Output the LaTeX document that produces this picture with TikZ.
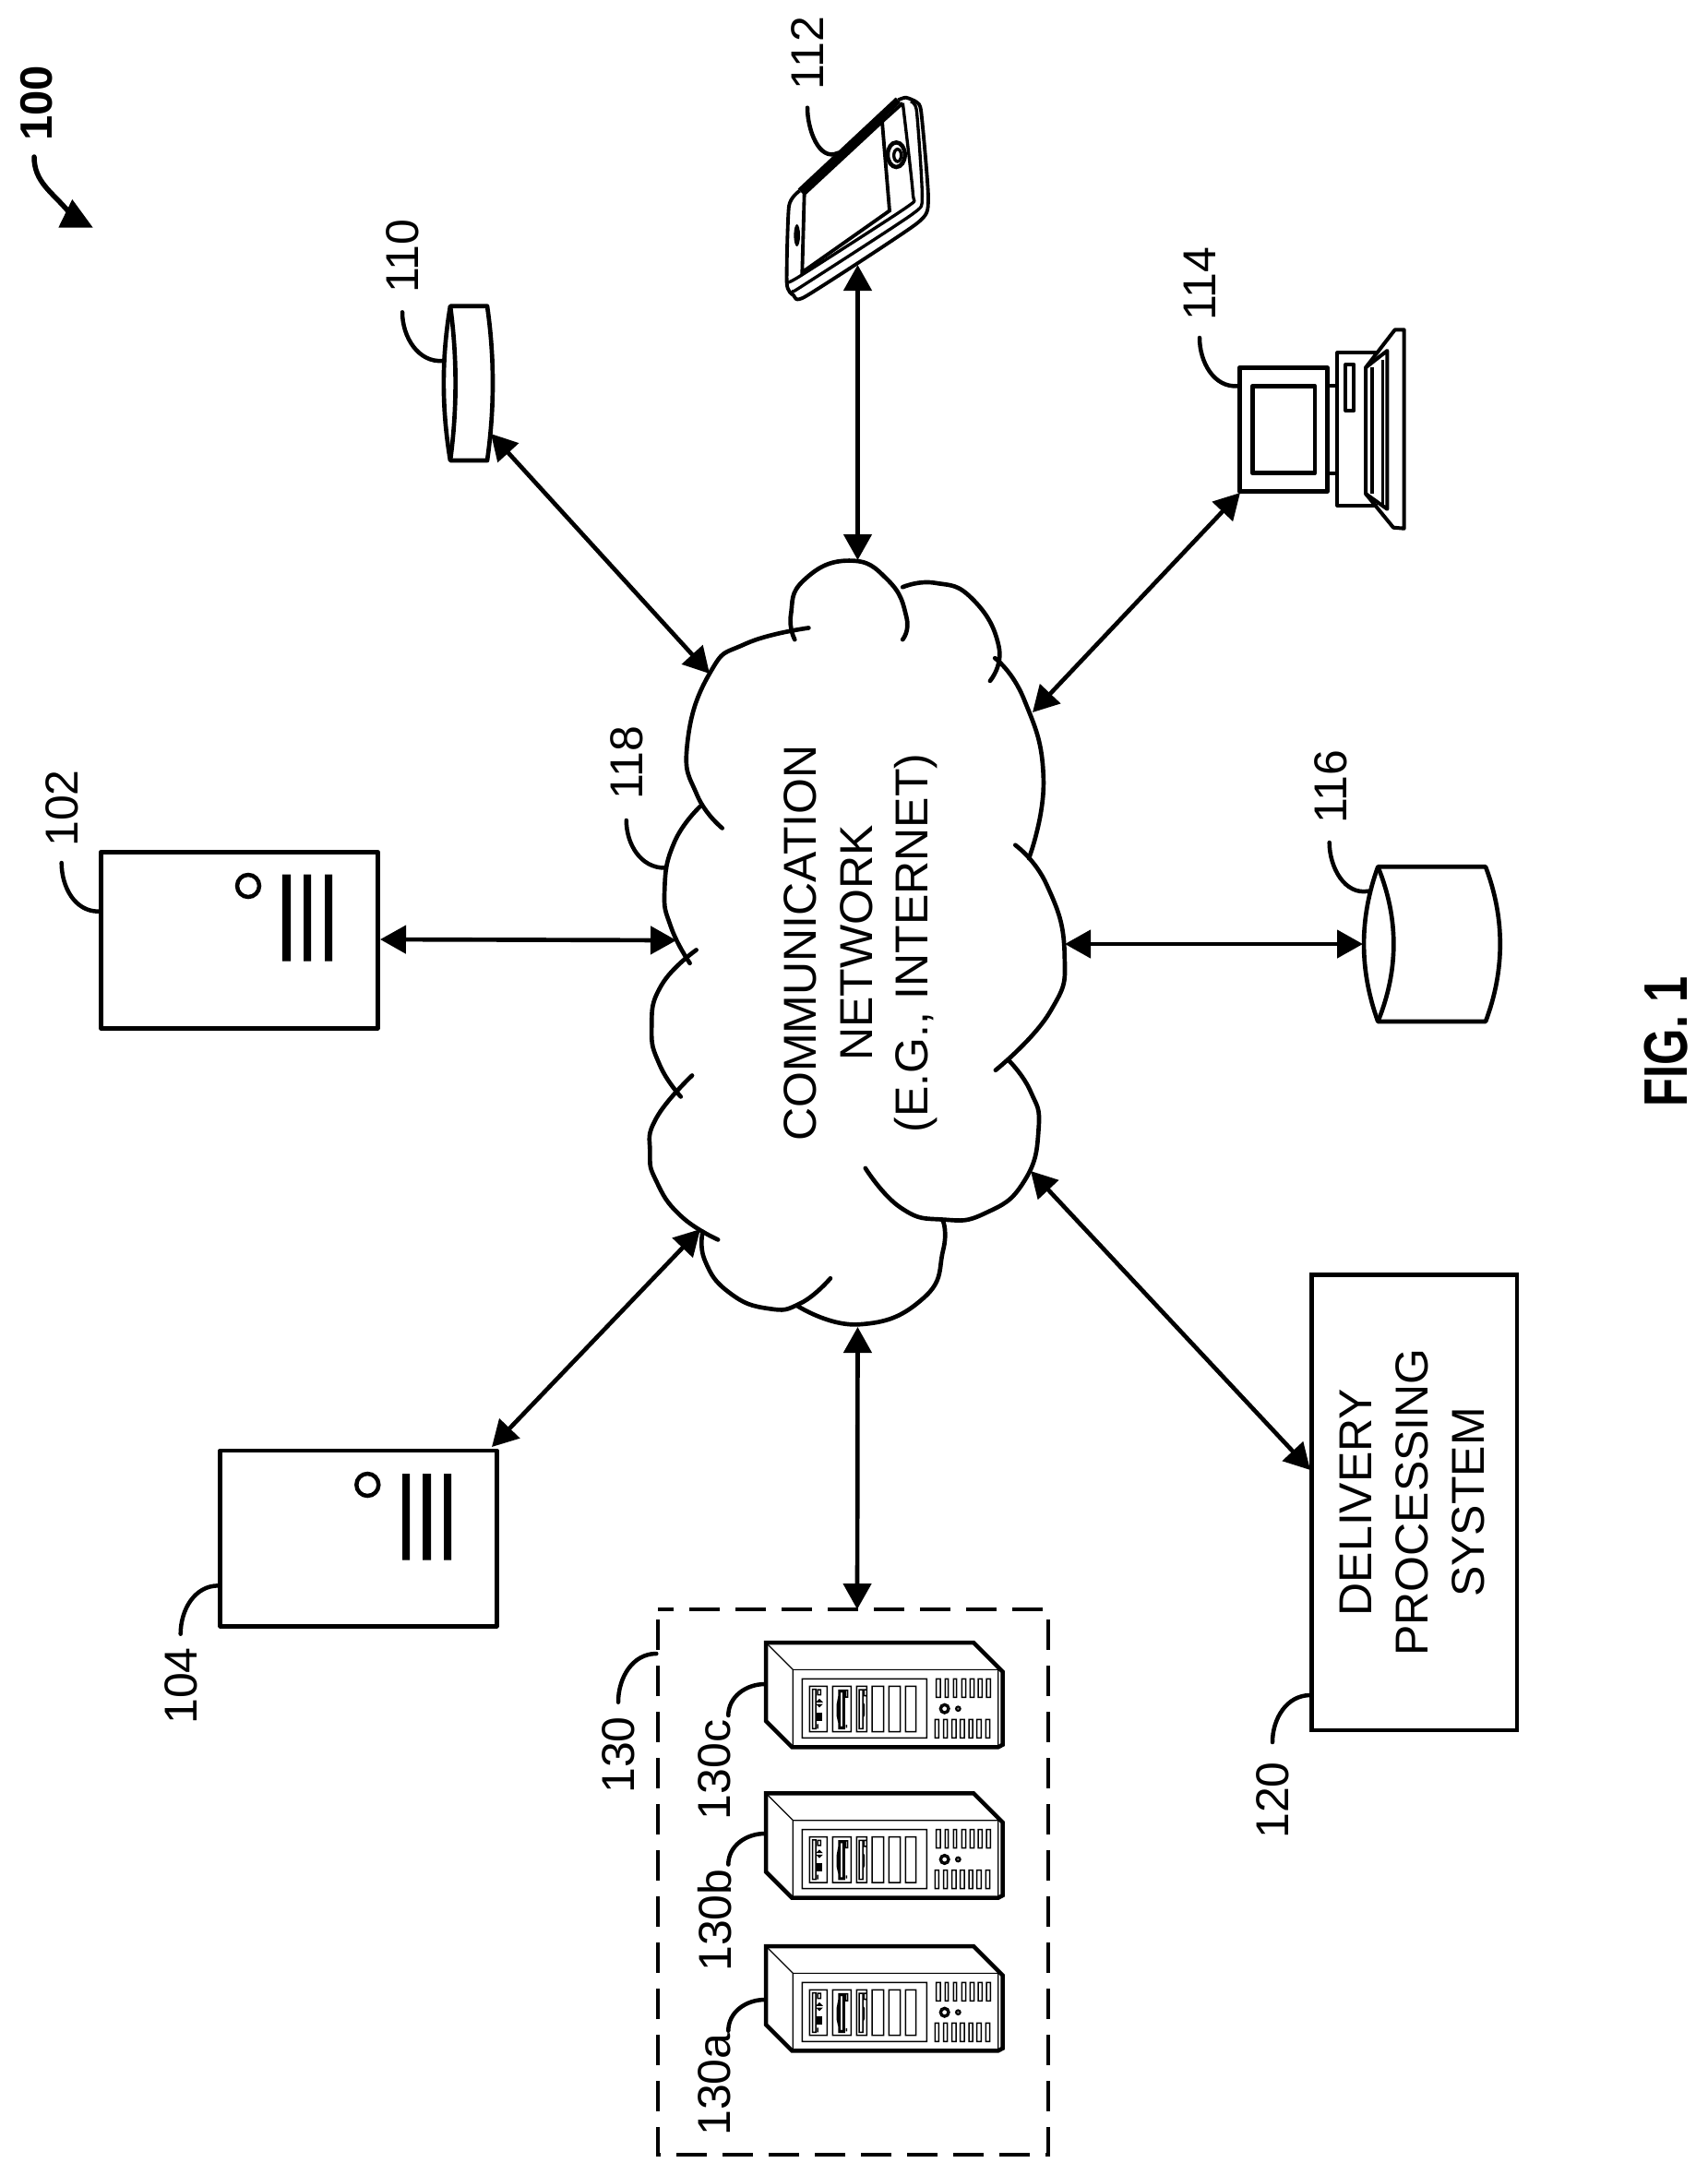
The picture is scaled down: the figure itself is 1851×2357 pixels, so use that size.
\documentclass[tikz,border=0pt]{standalone}
\usepackage{fontspec}
\setmainfont{Liberation Sans}
\usetikzlibrary{arrows.meta}
\tikzset{
  ln/.style={line width=1.4pt,line join=round},
  leader/.style={line width=1.35pt,line cap=round},
  thin1/.style={line width=0.36pt},
  thick1/.style={line width=1.35pt,line join=miter},
  biarrow/.style={line width=1.4pt,{Triangle[length=8.4pt,width=9pt]}-{Triangle[length=8.4pt,width=9pt]}},
  lab/.style={rotate=90,anchor=base,inner sep=0pt,font=\fontsize{15}{18.2}\selectfont},
  block/.style={rotate=90,anchor=center,inner sep=0pt,align=center,font=\fontsize{15}{18.2}\selectfont},
  cl/.style={line width=1.4pt,line cap=round},
  srv/.pic={
    \draw[thick1] (30,30)--(705,30)--(800,125)--(800,362)--(785,370)--(115,370)--(30,285)--cycle;
    \draw[thin1] (785,125)--(785,370) (118,118) rectangle (785,370) (32,32)--(118,118);
    \draw[thin1,line width=0.45pt] (148,148) rectangle (553,340)
      (172,172) rectangle (229,320) (182,182) rectangle (192,310) (198,183) rectangle (208,200)
      (198,222)--(204,216)--(210,222)--cycle (198,232)--(204,238)--(210,232)--cycle (198,295)--(198,310)
      (247,172) rectangle (307,320) (267,185) rectangle (285,310) (271,190) rectangle (281,305) (289,185) rectangle (296,207) (292,297)--(292,307)
      (267,205)--(262,232)--(262,268)--(267,290)
      (325,172) rectangle (358,320) (333,183) rectangle (345,310) (349,183) rectangle (358,203) (345,225)--(349,232)--(349,265)--(345,275)
      (375,172) rectangle (413,320) (430,172) rectangle (467,320) (484,172) rectangle (518,320);
    \fill (195,258) rectangle (212,285);
    \draw[thin1,line width=0.45pt]
      (584,148) rectangle (597,208) (613,148) rectangle (623,208) (640,148) rectangle (650,208)
      (667,148) rectangle (680,208) (694,148) rectangle (707,208) (720,148) rectangle (733,208) (747,148) rectangle (760,208)
      (580,280) rectangle (592,340) (608,280) rectangle (620,340) (635,280) rectangle (648,340)
      (662,280) rectangle (675,340) (690,280) rectangle (702,340) (716,280) rectangle (730,340) (745,280) rectangle (758,340)
      (611,245) circle (16) (611,245) circle (10);
    \draw[line width=0.6pt,fill=gray] (655,245) circle (7);
  },
}
\begin{document}
\begin{tikzpicture}[x=0.3pt,y=-0.3pt]
\useasboundingbox (0,0) rectangle (1851,2357);
\fill[white] (0,0) rectangle (1851,2357);

% ---- named end points
\coordinate (a102) at (412,1018);   \coordinate (c102) at (733,1019);
\coordinate (a104) at (533,1568);   \coordinate (c104) at (759,1332);
\coordinate (a110) at (532,470);    \coordinate (c110) at (769,730);
\coordinate (a112) at (929.5,287);  \coordinate (c112) at (929.5,607);
\coordinate (a114) at (1344,534);   \coordinate (c114) at (1119,772);
\coordinate (a116) at (1477,1023);  \coordinate (c116) at (1154,1023);
\coordinate (a120) at (1420,1593);  \coordinate (c120) at (1117,1269);
\coordinate (a130) at (929,1744);   \coordinate (c130) at (929.5,1438);

% ---- figure reference 100
\node[rotate=90,anchor=base,inner sep=0pt,font=\fontsize{14.7}{18}\selectfont\bfseries] (l100) at (56,112) {100};
\coordinate (r100a) at (37,170);
\coordinate (r100b) at (74,229);
\draw[line width=1.65pt,line cap=round] (r100a) to[out=-90,in=130] (r100b);
\fill (78.3,216)--(63.3,246.7)--(100.7,246.7)--cycle;

% ---- cloud
\begin{scope}[shift={(650,580)},x=0.1053pt,y=-0.1722pt]
\draw[cl] plot[smooth,tension=0.85] coordinates {(602,197)(590,150)(630,85)(770,48)(890,85)(947,155)(935,197)};
\draw[cl] plot[smooth,tension=0.85] coordinates {(935,98)(1035,90)(1150,120)(1232,210)(1205,275)};
\draw[cl] plot[smooth,tension=0.85] coordinates {(1220,232)(1310,310)(1370,460)(1325,610)};
\draw[cl] plot[smooth,tension=0.85] coordinates {(1283,585)(1380,660)(1435,790)(1390,900)(1222,1010)};
\draw[cl] plot[smooth,tension=0.85] coordinates {(1265,993)(1330,1050)(1355,1120)(1310,1220)(1190,1280)(1060,1292)(930,1270)(820,1195)};
\draw[cl] plot[smooth,tension=0.85] coordinates {(1060,1295)(1060,1350)(1000,1440)(800,1490)(610,1455)};
\draw[cl] plot[smooth,tension=0.85] coordinates {(712,1403)(620,1450)(520,1460)(400,1430)(325,1370)(318,1315)};
\draw[cl] plot[smooth,tension=0.85] coordinates {(365,1330)(250,1285)(175,1220)(155,1165)(175,1100)(285,1020)};
\draw[cl] plot[smooth,tension=0.85] coordinates {(250,1060)(185,1000)(160,930)(190,850)(298,783)};
\draw[cl] plot[smooth,tension=0.85] coordinates {(278,808)(220,740)(200,670)(230,580)(310,512)};
\draw[cl] plot[smooth,tension=0.85] coordinates {(378,553)(300,490)(270,395)(340,260)(450,205)(645,175)};
\end{scope}
\node[block] (net) at (933,1022) {COMMUNICATION\\NETWORK\\(E.G., INTERNET)};

% ---- 102
\draw[ln] (109.3,923.3) rectangle (409.3,1114.3);
\draw[line width=1.35pt] (269,960) circle (12);
\fill (305.8,947.7) rectangle (315,1041.7) (329,947.7) rectangle (337,1041.7) (352,947.7) rectangle (360,1041.7);
\node[lab] (l102) at (85,876) {102};
\coordinate (p102) at (106.7,987.7); \coordinate (q102) at (66.7,935);
\draw[leader] (p102) to[out=180,in=-90] (q102);

% ---- 104
\draw[ln] (238.7,1572) rectangle (538.3,1762.3);
\draw[line width=1.35pt] (398.3,1609) circle (12);
\fill (436,1597) rectangle (444,1690.7) (458,1597) rectangle (467,1690.7) (481,1597) rectangle (489,1690.7);
\node[lab] (l104) at (213,1827) {104};
\coordinate (p104) at (236.7,1718.3); \coordinate (q104) at (195.7,1770.7);
\draw[leader] (p104) to[out=180,in=90] (q104);

% ---- 110
\draw[ln] (488,331.7)--(528,331.7) .. controls (536,387) and (536,443) .. (528,499)--(488,499)
  .. controls (478.5,443) and (478.5,387) .. cycle;
\draw[ln] (488,331.7) .. controls (495.5,387) and (495.5,443) .. (488,499);
\node[lab] (l110) at (453.3,278) {110};
\coordinate (p110) at (480,391); \coordinate (q110) at (436,338.3);
\draw[leader] (p110) to[out=185,in=-90] (q110);

% ---- 112 phone
\begin{scope}[shift={(830,0)},x=0.1pt,y=-0.1pt]
\draw[line width=1.15pt,line join=round] plot[smooth,tension=0.35] coordinates {(430,325)(455,317)(490,332)(505,365)(528,650)(490,727)(130,963)(90,960)(68,920)(75,670)(110,620)};
\draw[line width=2.3pt] (112,622)--(430,325);
\draw[line width=1.0pt,line join=round] plot[smooth,tension=0.35] coordinates {(470,330)(490,360)(508,640)(475,697)(110,935)(90,945)};
\draw[line width=1.0pt,line join=round] plot[smooth,tension=0.35] coordinates {(445,335)(478,630)(460,672)(115,895)(72,918)};
\draw[line width=1.15pt,line join=miter] (125,630)--(378,395)--(402,685)--(118,885)--cycle;
\draw[line width=1.15pt] (378,395)--(445,335);
\draw[line width=1.35pt,fill=white] (424,503) ellipse (28 and 40);
\draw[line width=1.0pt] (428,505) ellipse (12 and 20);
\fill (101,765) ellipse (10 and 36);
\end{scope}
\node[lab] (l112) at (892,58) {112};
\coordinate (p112) at (908.3,165.7); \coordinate (q112) at (875,116.7);
\draw[leader] (p112) to[out=205,in=-90] (q112);

% ---- 114 computer
\begin{scope}[shift={(1270,250)},x=0.1pt,y=-0.1pt]
\draw[ln] (220,445) rectangle (505,848);
\draw[ln] (262,505) rectangle (465,788);
\draw[ln,line width=1.2pt] (505,505)--(538,505) (505,790)--(538,790);
\draw[ln,line width=1.2pt] (670,397)--(538,397)--(538,893)--(670,893);
\draw[ln,line width=1.2pt] (565,435) rectangle (592,585);
\draw[ln,line width=1.2pt] (630,445)--(725,322)--(755,322)--(755,968)--(720,965)--(630,855)--cycle;
\draw[ln,line width=1.2pt] (630,445)--(700,390)--(700,905)--(630,855);
\draw[ln,line width=1.1pt] (650,445)--(650,855) (685,420)--(685,895);
\end{scope}
\node[lab] (l114) at (1317,307.6) {114};
\coordinate (p114) at (1341.7,418.3); \coordinate (q114) at (1300,366);
\draw[leader] (p114) to[out=185,in=-90] (q114);

% ---- 116 cylinder
\draw[ln] (1493.3,939.3)--(1610,939.3) .. controls (1631,995) and (1631,1051) .. (1610,1107)--(1493.3,1107)
  .. controls (1473,1051) and (1473,995) .. cycle;
\draw[ln] (1493.3,939.3) .. controls (1516,995) and (1516,1051) .. (1493.3,1107);
\node[lab] (l116) at (1459,853) {116};
\coordinate (p116) at (1483,965.7); \coordinate (q116) at (1440.7,913);
\draw[leader] (p116) to[out=190,in=-90] (q116);

% ---- 120
\node[draw,line width=1.4pt,minimum width=222.3*0.3pt,minimum height=493.3*0.3pt,inner sep=0pt,outer sep=0pt] (d120) at (1532.8,1628.4) {};
\node[block] (dps) at (1530.5,1628) {DELIVERY\\PROCESSING\\SYSTEM};
\node[lab] (l120) at (1396,1951) {120};
\coordinate (p120) at (1420,1837); \coordinate (q120) at (1379,1888);
\draw[leader] (p120) to[out=180,in=90] (q120);

% ---- 130 group
\draw[line width=1.35pt,dash pattern=on 9.9pt off 5.1pt,dash phase=4.8pt] (713,1744)--(1136,1744)--(1136,2335)--(713,2335)--cycle;
\node[lab] (l130) at (687.5,1902) {130};
\coordinate (p130) at (711.3,1792); \coordinate (q130) at (670,1844.6);
\draw[leader] (p130) to[out=180,in=90] (q130);

\begin{scope}[shift={(820,1770)},x=0.1pt,y=-0.1pt] \pic (s130c) {srv}; \end{scope}
\begin{scope}[shift={(820,1933.3)},x=0.1pt,y=-0.1pt] \pic (s130b) {srv}; \end{scope}
\begin{scope}[shift={(820,2099)},x=0.1pt,y=-0.1pt] \pic (s130a) {srv}; \end{scope}
\node[lab] (l130c) at (791,1918) {130c};
\node[lab] (l130b) at (792,2081) {130b};
\node[lab] (l130a) at (791,2259) {130a};
\coordinate (pc) at (829,1825); \coordinate (qc) at (789.3,1859);
\coordinate (pb) at (829,1987); \coordinate (qb) at (789.3,2020.5);
\coordinate (pa) at (829,2167); \coordinate (qa) at (789.3,2200.7);
\draw[leader] (pc) to[out=180,in=90] (qc);
\draw[leader] (pb) to[out=180,in=90] (qb);
\draw[leader] (pa) to[out=180,in=90] (qa);

% ---- 118
\node[lab] (l118) at (696,827) {118};
\coordinate (p118) at (720.2,940.5); \coordinate (q118) at (678.8,889);
\draw[leader] (p118) to[out=180,in=-90] (q118);

% ---- connectors
\draw[biarrow] (a102)--(c102);
\draw[biarrow] (a104)--(c104);
\draw[biarrow] (a110)--(c110);
\draw[biarrow] (a112)--(c112);
\draw[biarrow] (a114)--(c114);
\draw[biarrow] (a116)--(c116);
\draw[biarrow] (a120)--(c120);
\draw[biarrow] (a130)--(c130);

% ---- caption
\node[rotate=90,xscale=0.76,anchor=base,inner sep=0pt,font=\fontsize{20}{24}\selectfont\bfseries] (fig) at (1828,1129) {FIG. 1};
\end{tikzpicture}
\end{document}
